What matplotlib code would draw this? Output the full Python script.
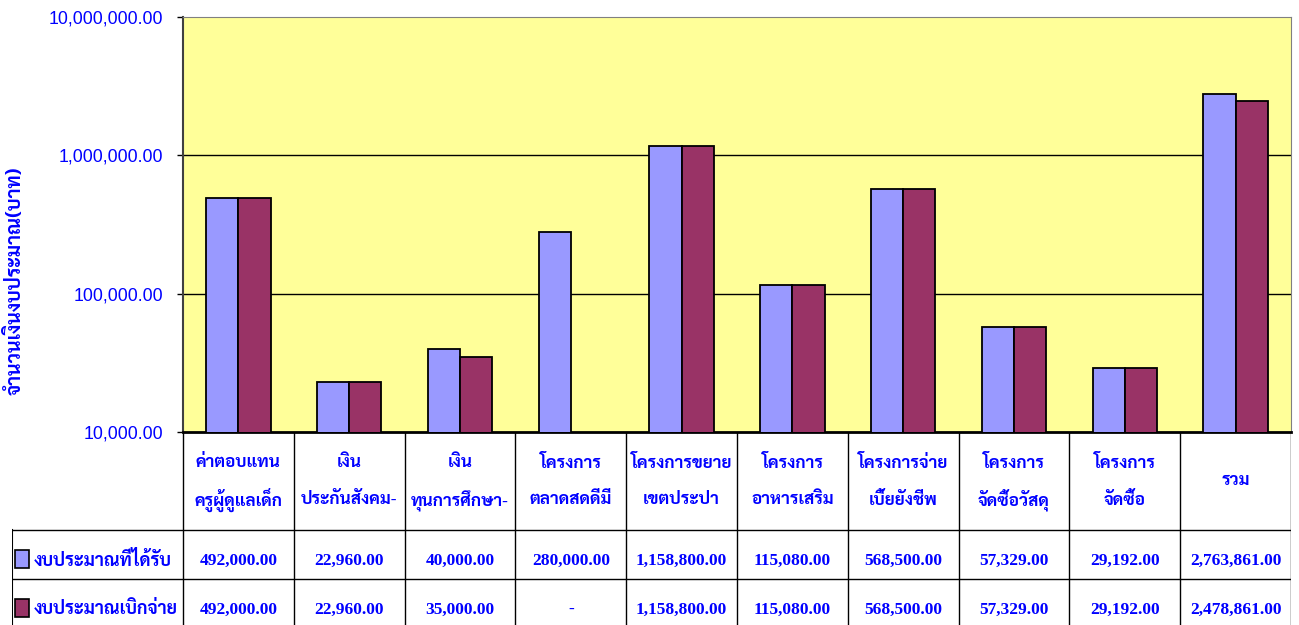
import matplotlib
matplotlib.use('Agg')
import matplotlib.pyplot as plt
from matplotlib import font_manager
from matplotlib.patches import Rectangle
import numpy as np

# data
categories = ['ค่าตอบแทน\nครูผู้ดูแลเด็ก', 'เงิน\nประกันสังคม-', 'เงิน\nทุนการศึกษา-',
              'โครงการ\nตลาดสดดีมี', 'โครงการขยาย\nเขตประปา', 'โครงการ\nอาหารเสริม',
              'โครงการจ่าย\nเบี้ยยังชีพ', 'โครงการ\nจัดซื้อวัสดุ', 'โครงการ\nจัดซื้อ', 'รวม']
received = [492000, 22960, 40000, 280000, 1158800, 115080, 568500, 57329, 29192, 2763861]
spent = [492000, 22960, 35000, np.nan, 1158800, 115080, 568500, 57329, 29192, 2478861]
series_names = ['งบประมาณที่ได้รับ', 'งบประมาณเบิกจ่าย']
y_label = 'จำนวนเงินงบประมาณ(บาท)'
y_ticks = [10000, 100000, 1000000, 10000000]

blue = '#9999FF'
plum = '#993366'
txt = '#0000FF'

names = {f.name for f in font_manager.fontManager.ttflist}
thai = next((n for n in ['Sarabun', 'Noto Serif Thai', 'Taviraj', 'Noto Sans Thai']
             if n in names), 'DejaVu Sans')
serif_fam = ['Liberation Serif', thai]

W, H = 1299, 625
fig = plt.figure(figsize=(W / 100, H / 100), dpi=100)

# pixel layout
x0, x1 = 183, 1291
y_top, y_bot = 17, 432
ax = fig.add_axes([x0 / W, 1 - y_bot / H, (x1 - x0) / W, (y_bot - y_top) / H])
ax.set_facecolor('#FFFF99')

n = len(categories)
x = np.arange(n)
bw = 0.29
ax.bar(x - bw / 2, received, bw, color=blue, edgecolor='black', linewidth=1.3, zorder=3)
ax.bar(x + bw / 2, spent, bw, color=plum, edgecolor='black', linewidth=1.3, zorder=3)
ax.set_yscale('log')
ax.set_ylim(y_ticks[0], y_ticks[-1])
ax.set_xlim(-0.5, n - 0.5)
ax.set_yticks(y_ticks)
ax.set_yticklabels(['{:,.2f}'.format(v) for v in y_ticks], color=txt,
                   fontsize=12.8, family='Liberation Sans')
ax.yaxis.set_minor_locator(matplotlib.ticker.NullLocator())
ax.tick_params(axis='y', length=4, width=1, pad=10.5)
ax.set_xticks([])
for yv in y_ticks[1:-1]:
    ax.axhline(yv, color='black', linewidth=1, zorder=1)
for s in ['top', 'right']:
    ax.spines[s].set_color('#808080')
ax.spines['left'].set_linewidth(1.5)
ax.spines['left'].set_color('#404040')
ax.spines['bottom'].set_linewidth(2)

fig.text(15 / W, 1 - 281 / H, y_label, rotation=90, ha='center', va='center',
         color=txt, fontsize=14, fontweight='bold', family=[thai])

# data table below the plot
slot = (x1 - x0) / n
left_w = (x0 - 12) / slot
tl = -0.5 - left_w
tax = fig.add_axes([12 / W, 0, (x1 - 12) / W, 1 - y_bot / H])
tax.set_xlim(tl, n - 0.5)
tax.set_ylim(H, y_bot)
tax.axis('off')
r1, r2 = 530, 579
for b in np.arange(n + 1) - 0.5:
    tax.plot([b, b], [y_bot, H], color='black', linewidth=1)
tax.plot([tl, tl], [r1, H], color='black', linewidth=1.5)
for yy in (r1, r2):
    tax.plot([tl, n - 0.5], [yy, yy], color='black', linewidth=1)

for i, c in enumerate(categories):
    lines = c.split('\n')
    if len(lines) == 1:
        ys = [481]
    else:
        ys = [463, 500]
    for ln, yy in zip(lines, ys):
        tax.text(i, yy, ln, ha='center', va='center', color=txt,
                 fontsize=12.3, fontweight='bold', family=serif_fam)

for (vals, r, col, nm) in [(received, r1, blue, series_names[0]),
                           (spent, r2, plum, series_names[1])]:
    ym = r + 31
    for i, v in enumerate(vals):
        s = '-' if np.isnan(v) else '{:,.2f}'.format(v)
        tax.text(i, ym, s, ha='center', va='center', color=txt,
                 fontsize=12.5, fontweight='bold', family=serif_fam)
    tax.add_patch(Rectangle((tl + 3 / slot, ym + 7), 14 / slot, -18,
                            facecolor=col, edgecolor='black', linewidth=1.2))
    tax.text(tl + 22 / slot, ym, nm, ha='left', va='center', color=txt,
             fontsize=12.8, fontweight='bold', family=serif_fam)

fig.savefig('out.png')
